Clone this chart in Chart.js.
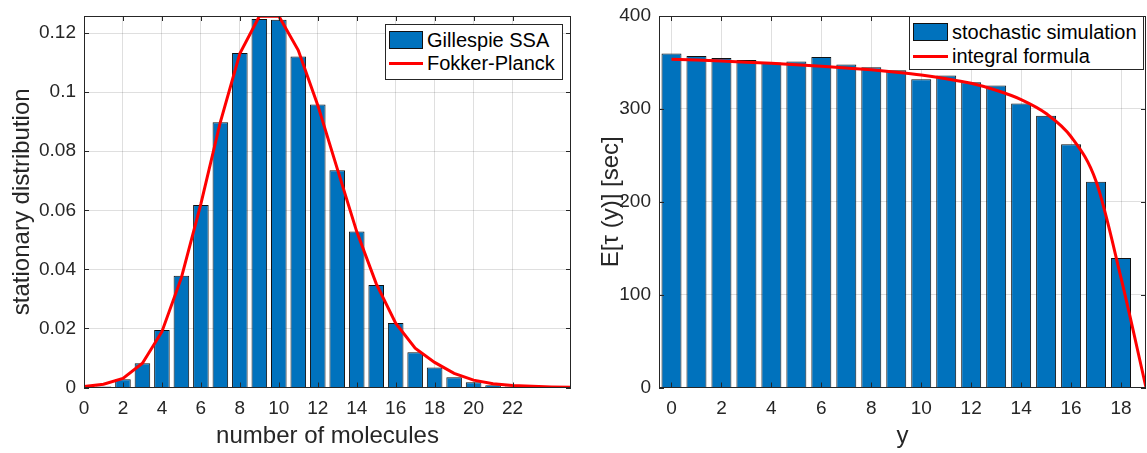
<!DOCTYPE html>
<html><head><meta charset="utf-8">
<script src="https://cdn.jsdelivr.net/npm/chart.js@4.4.1/dist/chart.umd.min.js"></script>
<style>
html,body{margin:0;padding:0;background:#fff;}
#wrap{position:relative;width:1147px;height:453px;overflow:hidden;font-family:"Liberation Sans",Arial,Helvetica,sans-serif;}
canvas{position:absolute;top:0;}
.legend{position:absolute;background:#fff;border:1px solid #262626;box-sizing:border-box;}
.sw{position:absolute;box-sizing:border-box;}
.lbl{position:absolute;white-space:nowrap;font-size:20px;line-height:20px;color:#000;}
</style>
</head><body>
<div id="wrap">
  <canvas id="c1" width="590" height="453" style="left:0"></canvas>
  <canvas id="c2" width="557" height="453" style="left:590px"></canvas>
  <div id="leg1" class="legend" style="left:385px;top:24px;width:178px;height:56px;"></div>
  <div id="leg2" class="legend" style="left:909px;top:16px;width:235px;height:54px;"></div>
</div>
<script>
// ---------- Left panel data ----------
const moleculeCounts   = [1,2,3,4,5,6,7,8,9,10,11,12,13,14,15,16,17,18,19,20,21,22,23];
const ssaProbabilities = [0.0003,0.0028,0.0082,0.0195,0.0378,0.0618,0.0898,0.1133,0.1248,0.1245,0.1121,0.0958,0.0736,0.0528,0.0347,0.0218,0.0119,0.0068,0.0035,0.0018,0.0008,0.0003,0.0001];
const fpPoints  = [0,1,2,3,4,5,6,7,8,9,10,11,12,13,14,15,16,17,18,19,20,21,22,23,24,25];
const fpDensity = [0.0003,0.0011,0.0031,0.0082,0.0189,0.0372,0.0622,0.0899,0.1131,0.1257,0.1258,0.1142,0.0956,0.0741,0.0528,0.0352,0.0218,0.0133,0.0085,0.0048,0.0025,0.0013,0.0007,0.0004,0.0002,0.0001];
const leftXTicks = [0,2,4,6,8,10,12,14,16,18,20,22];
const leftYTicks = [0,0.02,0.04,0.06,0.08,0.1,0.12];

// ---------- Right panel data ----------
const yStates        = [0,1,2,3,4,5,6,7,8,9,10,11,12,13,14,15,16,17,18];
const simulatedTimes = [359.7,357,354.7,352.5,350,351,355.8,347.9,344.7,341.6,332,336,328.8,325.3,305.9,292.6,262,221.6,139.4];
const formulaStates  = [0,1,2,3,4,5,6,7,8,9,10,11,12,13,14,15,16,17,18,19];
const formulaTimes   = [353.3,352.5,351.5,350.3,349,347.5,345.8,344,342,339.5,336.5,332.5,327.5,320,310,295,270,222,118,0];
const rightXTicks = [0,2,4,6,8,10,12,14,16,18];
const rightYTicks = [0,100,200,300,400];

const FONT = '"Liberation Sans", Arial, Helvetica, sans-serif';
const AXC = '#262626';
const GRID = 'rgba(38,38,38,0.15)';
const BLUE = '#0072BD';
const RED = '#FF0000';

const framePlugin = {
  id: 'frame',
  afterDatasetsDraw(chart) {
    const {ctx, chartArea: {left, right, top, bottom}, scales: {x, y}} = chart;
    const L = 5;
    ctx.save();
    ctx.strokeStyle = AXC; ctx.lineWidth = 1;
    ctx.beginPath();
    x.ticks.forEach(t => {
      const px = Math.round(x.getPixelForValue(t.value)) + 0.5;
      ctx.moveTo(px, bottom); ctx.lineTo(px, bottom - L);
      ctx.moveTo(px, top); ctx.lineTo(px, top + L);
    });
    y.ticks.forEach(t => {
      const py = Math.round(y.getPixelForValue(t.value)) + 0.5;
      ctx.moveTo(left, py); ctx.lineTo(left + L, py);
      ctx.moveTo(right, py); ctx.lineTo(right - L, py);
    });
    ctx.stroke();
    ctx.strokeRect(Math.round(left) + 0.5, Math.round(top) + 0.5, Math.round(right - left) - 1, Math.round(bottom - top) - 1);
    ctx.restore();
  }
};

function fixTicks(arr) { return scale => { scale.ticks = arr.map(v => ({value: v})); }; }

function buildChart(id, cfg) {
  return new Chart(document.getElementById(id), {
    type: 'bar',
    data: {
      datasets: [
        {type: 'line', label: cfg.lineLabel, data: cfg.lineX.map((x, i) => ({x, y: cfg.lineY[i]})),
         borderColor: RED, backgroundColor: RED, borderWidth: 3, pointRadius: 0, fill: false,
         tension: cfg.tension, cubicInterpolationMode: cfg.cubic ? 'monotone' : 'default', order: 0},
        {type: 'bar', label: cfg.barLabel, data: cfg.barX.map((x, i) => ({x, y: cfg.barY[i]})),
         backgroundColor: BLUE, borderColor: '#111', borderWidth: 1, borderSkipped: 'start',
         barPercentage: 0.8, categoryPercentage: 1.0, order: 1}
      ]
    },
    options: {
      responsive: false, animation: false, devicePixelRatio: 1,
      layout: {padding: cfg.padding},
      plugins: {legend: {display: false}, tooltip: {enabled: false}},
      scales: {
        x: {
          type: 'linear', min: cfg.xmin, max: cfg.xmax, offset: false,
          grid: {color: GRID, drawTicks: false, offset: false},
          border: {display: false},
          ticks: {color: AXC, font: {family: FONT, size: 19}, padding: 10, maxRotation: 0, autoSkip: false},
          afterBuildTicks: fixTicks(cfg.xTicks),
          afterFit: s => { s.height = cfg.xAxisH; s.paddingLeft = 0; s.paddingRight = 0; },
          title: {display: true, text: cfg.xTitle, color: AXC, font: {family: FONT, size: 24}, padding: {top: 0, bottom: 2}}
        },
        y: {
          type: 'linear', min: 0, max: cfg.ymax,
          grid: {color: GRID, drawTicks: false},
          border: {display: false},
          ticks: {color: AXC, font: {family: FONT, size: 19}, padding: 8, autoSkip: false,
                  callback: v => String(Number(v.toFixed(4)))},
          afterBuildTicks: fixTicks(cfg.yTicks),
          afterFit: s => { s.width = cfg.yAxisW; s.paddingTop = 0; s.paddingBottom = 0; },
          title: {display: true, text: cfg.yTitle, color: AXC, font: {family: FONT, size: 24}, padding: {top: cfg.yTitlePad, bottom: 0}}
        }
      }
    },
    plugins: [framePlugin]
  });
}

const chart1 = buildChart('c1', {
  lineLabel: 'Fokker-Planck', lineX: fpPoints, lineY: fpDensity, tension: 0, cubic: false,
  barLabel: 'Gillespie SSA', barX: moleculeCounts, barY: ssaProbabilities,
  padding: {top: 16, right: 19, left: 0, bottom: 0},
  xmin: 0, xmax: 25, ymax: 0.1258, xTicks: leftXTicks, yTicks: leftYTicks,
  xAxisH: 65.5, yAxisW: 84, yTitlePad: 8,
  xTitle: 'number of molecules', yTitle: 'stationary distribution'
});
const chart2 = buildChart('c2', {
  lineLabel: 'integral formula', lineX: formulaStates, lineY: formulaTimes, tension: 0.4, cubic: true,
  barLabel: 'stochastic simulation', barX: yStates, barY: simulatedTimes,
  padding: {top: 16, right: 1, left: 0, bottom: 0},
  xmin: -0.5, xmax: 19, ymax: 400, xTicks: rightXTicks, yTicks: rightYTicks,
  xAxisH: 65.5, yAxisW: 69, yTitlePad: 7,
  xTitle: 'y', yTitle: 'E[τ (y)] [sec]'
});

// HTML legends built from the chart datasets
function buildLegend(chart, el, cfg) {
  const ds = chart.data.datasets;
  const order = [ds[1], ds[0]];
  order.forEach((d, i) => {
    const sw = document.createElement('div');
    sw.className = 'sw';
    const cy = cfg.rowY[i];
    if (d.type === 'bar') {
      sw.style.cssText = `left:${cfg.swX}px;top:${cy - 9}px;width:${cfg.swW}px;height:18px;background:${d.backgroundColor};border:1px solid #111;`;
    } else {
      sw.style.cssText = `left:${cfg.swX}px;top:${cy - 1.5}px;width:${cfg.swW}px;height:3px;background:${d.borderColor};`;
    }
    el.appendChild(sw);
    const t = document.createElement('div');
    t.className = 'lbl';
    t.textContent = d.label;
    t.style.left = cfg.txtX + 'px';
    t.style.top = (cy - 10) + 'px';
    el.appendChild(t);
  });
}
buildLegend(chart1, document.getElementById('leg1'), {swX: 3, swW: 34, txtX: 41, rowY: [15, 38]});
buildLegend(chart2, document.getElementById('leg2'), {swX: 3, swW: 35, txtX: 42, rowY: [15, 39]});
</script>
</body></html>
